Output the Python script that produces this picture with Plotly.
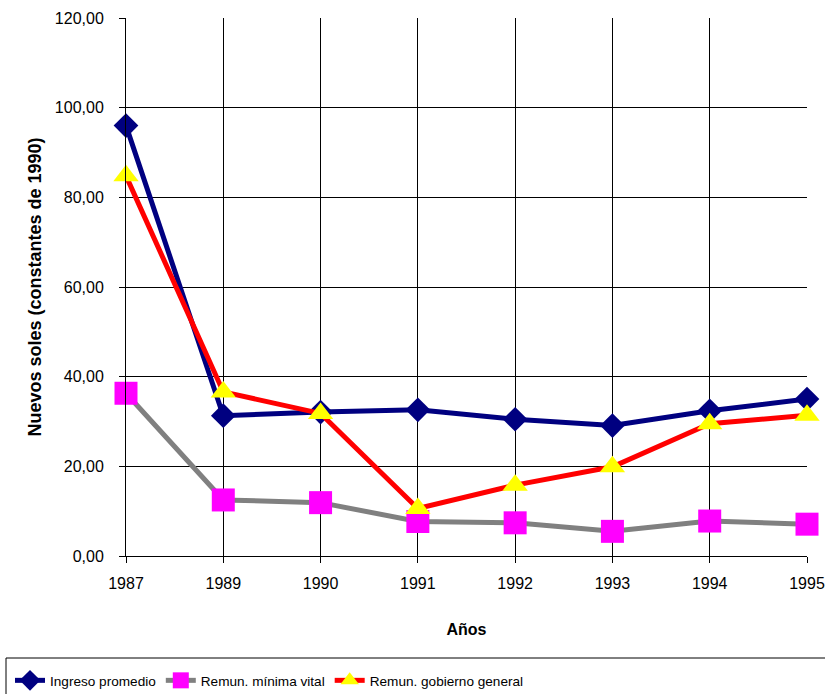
import plotly.graph_objects as go

# Annual series in constant 1990 nuevos soles
years = ["1987", "1989", "1990", "1991", "1992", "1993", "1994", "1995"]
ingreso_promedio = [96.0, 31.3, 32.1, 32.6, 30.5, 29.1, 32.4, 35.0]
remun_minima_vital = [36.3, 12.5, 11.9, 7.7, 7.4, 5.5, 7.8, 7.1]
remun_gobierno_general = [84.8, 36.6, 31.8, 10.6, 15.8, 19.9, 29.5, 31.4]

W, H = 825, 694
L, R, T, B = 126, 18, 18, 138
plot_w = W - L - R
plot_h = H - T - B


def px_x(px):
    return (px - L) / plot_w


def px_y(py):
    return (H - B - py) / plot_h


font_main = "Arial, Liberation Sans, sans-serif"

fig = go.Figure()
fig.add_trace(go.Scatter(
    x=years, y=ingreso_promedio, name="Ingreso promedio",
    mode="lines+markers", cliponaxis=False,
    line=dict(color="#000080", width=5),
    marker=dict(symbol="diamond", size=19, color="#000080"),
))
fig.add_trace(go.Scatter(
    x=years, y=remun_minima_vital, name="Remun. mínima vital",
    mode="lines+markers", cliponaxis=False,
    line=dict(color="#808080", width=5),
    marker=dict(symbol="square", size=23, color="#FF00FF"),
))
fig.add_trace(go.Scatter(
    x=years, y=remun_gobierno_general, name="Remun. gobierno general",
    mode="lines+markers", cliponaxis=False,
    line=dict(color="#FF0000", width=5),
    marker=dict(symbol="triangle-up", size=22, color="#FFFF00"),
))

# Legend frame across the bottom
fig.add_shape(
    type="rect", xref="paper", yref="paper",
    x0=px_x(6), x1=px_x(840), y0=px_y(705), y1=px_y(658),
    line=dict(color="black", width=1), fillcolor="rgba(0,0,0,0)",
)

fig.update_layout(
    width=W, height=H,
    margin=dict(l=L, r=R, t=T, b=B, autoexpand=False),
    paper_bgcolor="white", plot_bgcolor="white",
    separators=",.",
    font=dict(family=font_main, size=16, color="black"),
    showlegend=True,
    legend=dict(
        orientation="h", x=px_x(10), xanchor="left",
        y=px_y(665), yanchor="top",
        font=dict(family=font_main, size=13.6, color="black"),
        itemwidth=30, borderwidth=0, bgcolor="rgba(0,0,0,0)",
        tracegroupgap=0,
    ),
    xaxis=dict(
        type="category", range=[0, 7],
        showgrid=True, gridcolor="black", gridwidth=1,
        showline=True, linecolor="black", linewidth=1,
        ticks="outside", ticklen=6, tickcolor="black",
        tickfont=dict(size=16), ticklabelstandoff=7,
        title=dict(text="<b>Años</b>", font=dict(size=16), standoff=32),
        zeroline=False,
    ),
    yaxis=dict(
        range=[0, 120], dtick=20, tickformat=".2f",
        showgrid=True, gridcolor="black", gridwidth=1,
        showline=True, linecolor="black", linewidth=1,
        ticks="outside", ticklen=6, tickcolor="black",
        tickfont=dict(size=16), ticklabelstandoff=12,
        title=dict(text="<b>Nuevos soles (constantes de 1990)</b>", font=dict(size=18), standoff=8),
        zeroline=False,
    ),
)

fig.write_html("out.html")
